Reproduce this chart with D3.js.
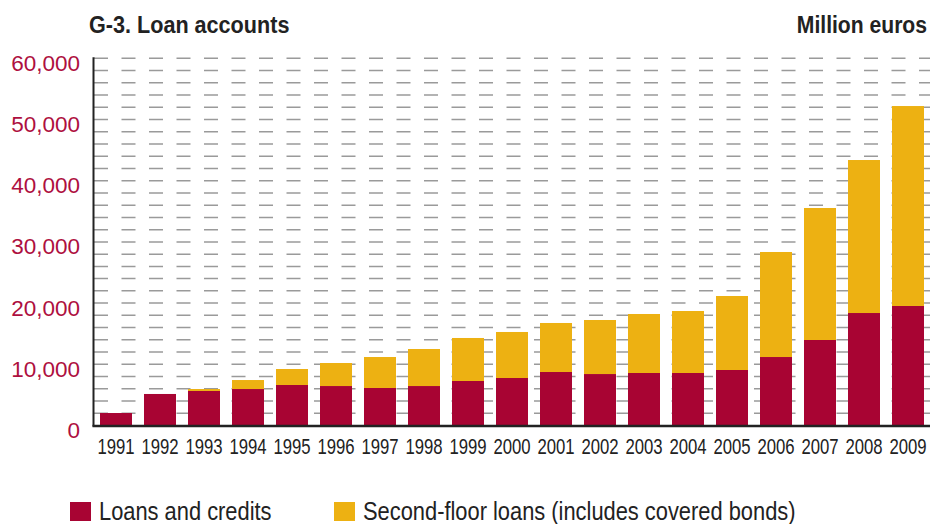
<!DOCTYPE html>
<html>
<head>
<meta charset="utf-8">
<script src="https://cdn.jsdelivr.net/npm/d3@7"></script>
<style>
  html, body { margin: 0; padding: 0; background: #fff; }
  svg { display: block; }
  text { font-family: "Liberation Sans", Arial, sans-serif; }
</style>
</head>
<body>
<svg id="chart" width="930" height="524"></svg>
<script>
// Loan accounts, million euros
const years = ["1991","1992","1993","1994","1995","1996","1997","1998","1999","2000",
               "2001","2002","2003","2004","2005","2006","2007","2008","2009"];
const loansAndCredits = [2040, 5150, 5640, 5960, 6620, 6450, 6130, 6450, 7270, 7760,
                         8740, 8410, 8580, 8580, 9070, 11190, 13970, 18380, 19530];
const secondFloorLoans = [0, 0, 320, 1470, 2610, 3760, 5060, 6050, 7030, 7520,
                          8010, 8830, 9640, 10130, 12090, 17160, 21570, 25000, 32670];
const yTicks = [0, 10000, 20000, 30000, 40000, 50000, 60000];
const seriesNames = ["Loans and credits", "Second-floor loans (includes covered bonds)"];
const seriesKeys = ["loans", "second"];

const colors = { loans: "#A80433", second: "#EDB112" };

const svg = d3.select("#chart");

const x = d3.scaleBand()
  .domain(years)
  .range([94, 930])
  .paddingInner(12 / 44)
  .paddingOuter(6 / 44);

const y = d3.scaleLinear()
  .domain([0, 60000])
  .range([425.5, 58.3]);

const rows = years.map((yr, i) => ({ year: yr, loans: loansAndCredits[i], second: secondFloorLoans[i] }));
const stacked = d3.stack().keys(seriesKeys)(rows);

// Condensed-looking text: horizontal squeeze around the anchor point
function narrowText(sel, px, py, sx, str) {
  return sel.append("text")
    .attr("transform", `translate(${px},${py}) scale(${sx},1)`)
    .text(str);
}

// Dashed horizontal grid every 2,000
const gridVals = d3.range(2000, 60001, 2000);
svg.append("g")
  .selectAll("line")
  .data(gridVals)
  .join("line")
  .attr("x1", 94)
  .attr("x2", 930)
  .attr("y1", d => y(d))
  .attr("y2", d => y(d))
  .attr("stroke", "#9a9a9a")
  .attr("stroke-width", 1.5)
  .attr("stroke-dasharray", "14,13.5");

// Stacked bars
svg.append("g")
  .selectAll("g")
  .data(stacked)
  .join("g")
  .attr("fill", d => colors[d.key])
  .selectAll("rect")
  .data(d => d)
  .join("rect")
  .attr("x", d => x(d.data.year))
  .attr("width", x.bandwidth())
  .attr("y", d => y(d[1]))
  .attr("height", d => y(d[0]) - y(d[1]));

// Y axis
const yAxis = svg.append("g")
  .attr("transform", "translate(94,0)")
  .call(d3.axisLeft(y).tickValues(yTicks).tickSize(0).tickPadding(14)
    .tickFormat(d3.format(",")));
yAxis.select(".domain").remove();
yAxis.selectAll("text")
  .attr("fill", "#AE0F40")
  .attr("font-size", 22.5)
  .attr("dy", "0.53em");
svg.append("line")
  .attr("x1", 93.5).attr("x2", 93.5)
  .attr("y1", y(60000) - 1).attr("y2", y(0) + 1)
  .attr("stroke", "#222").attr("stroke-width", 2);

// X axis
const xAxis = svg.append("g")
  .attr("transform", `translate(0,${y(0)})`)
  .call(d3.axisBottom(x).tickSize(0).tickPadding(0));
xAxis.select(".domain").remove();
xAxis.selectAll("text")
  .attr("fill", "#222")
  .attr("font-size", 22)
  .attr("y", 29)
  .attr("dy", 0)
  .attr("transform", "scale(0.76,1)");
svg.append("line")
  .attr("x1", 92.5).attr("x2", 930)
  .attr("y1", y(0) + 0.5).attr("y2", y(0) + 0.5)
  .attr("stroke", "#222").attr("stroke-width", 2.5);

// Titles
narrowText(svg, 89, 33, 0.9, "G-3. Loan accounts")
  .attr("font-size", 24).attr("font-weight", "bold").attr("fill", "#222");
narrowText(svg, 927, 33, 0.88, "Million euros")
  .attr("text-anchor", "end")
  .attr("font-size", 24).attr("font-weight", "bold").attr("fill", "#222");

// Legend
const legendX = [70, 334];
const legend = svg.append("g")
  .selectAll("g")
  .data(seriesKeys)
  .join("g")
  .attr("transform", (d, i) => `translate(${legendX[i]},502)`);
legend.append("rect")
  .attr("width", 21).attr("height", 19)
  .attr("fill", d => colors[d]);
legend.append("text")
  .attr("transform", "translate(29,17.5) scale(0.875,1)")
  .attr("font-size", 25).attr("fill", "#222")
  .text((d, i) => seriesNames[i]);
</script>
</body>
</html>
